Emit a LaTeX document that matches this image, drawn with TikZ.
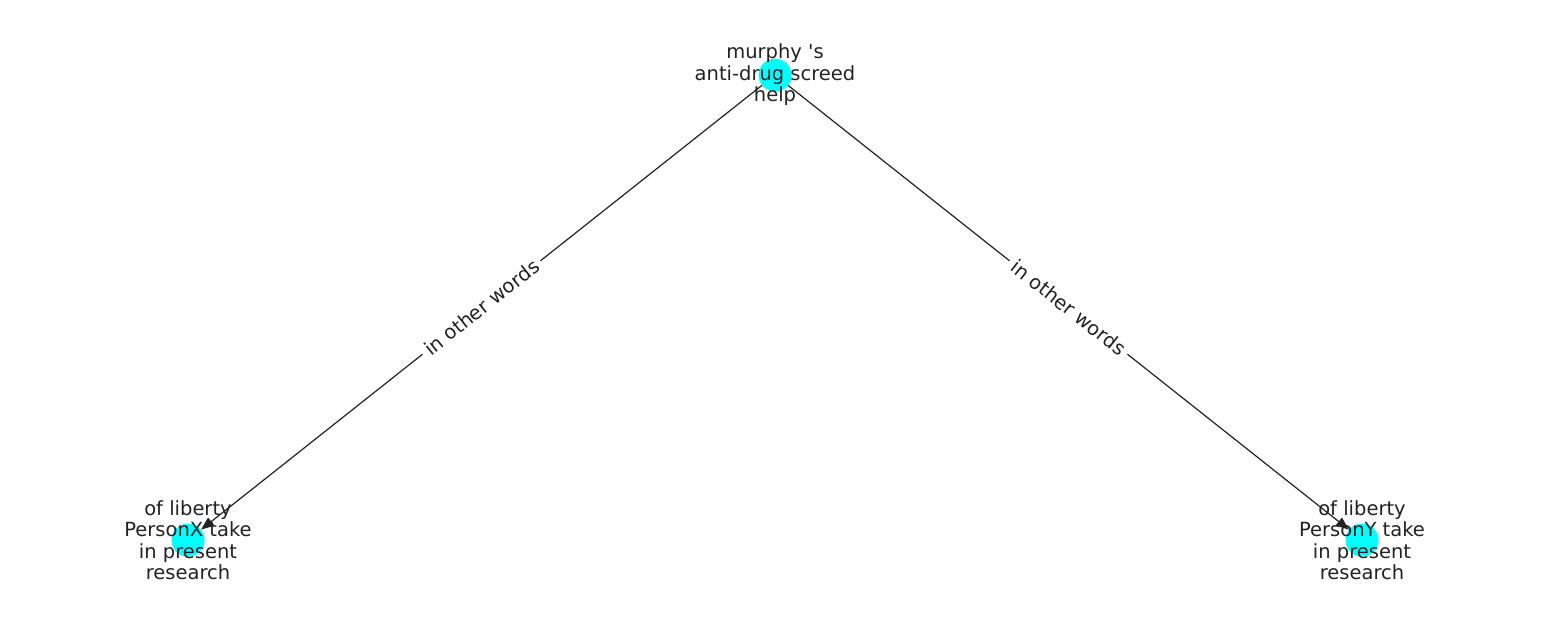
\documentclass[tikz,border=0pt]{standalone}
\usepackage{fontspec}
\setmainfont{DejaVu Sans}
\usetikzlibrary{arrows.meta}
\definecolor{nodecyan}{RGB}{0,255,255}
\definecolor{txt}{RGB}{34,34,34}
\begin{document}
\begin{tikzpicture}[x=1pt,y=-1pt,
  dot/.style={circle,fill=nodecyan,draw=none,minimum size=33pt,inner sep=0pt},
  lbl/.style={align=center,text=txt,font=\fontsize{19.5}{21.5}\selectfont,inner sep=0pt},
  edge/.style={draw=txt,line width=1.2pt,-{Triangle[length=13pt,width=10pt]}},
  elbl/.style={midway,sloped,fill=white,inner sep=5pt,text=txt,font=\fontsize{19.5}{21}\selectfont}]
\useasboundingbox (0,0) rectangle (1550,616);
\node[dot] (t) at (775,75) {};
\node[dot] (l) at (188,540) {};
\node[dot] (r) at (1362,540) {};
\draw[edge] (t) -- (l) node[elbl] {in other words};
\draw[edge] (t) -- (r) node[elbl] {in other words};
\node[lbl] (tl) at (775,75) {murphy \textquotesingle s\\anti-drug screed\\help};
\node[lbl] (ll) at (188,540) {of liberty\\PersonX take\\in present\\research};
\node[lbl] (rl) at (1362,540) {of liberty\\PersonY take\\in present\\research};
\end{tikzpicture}
\end{document}
